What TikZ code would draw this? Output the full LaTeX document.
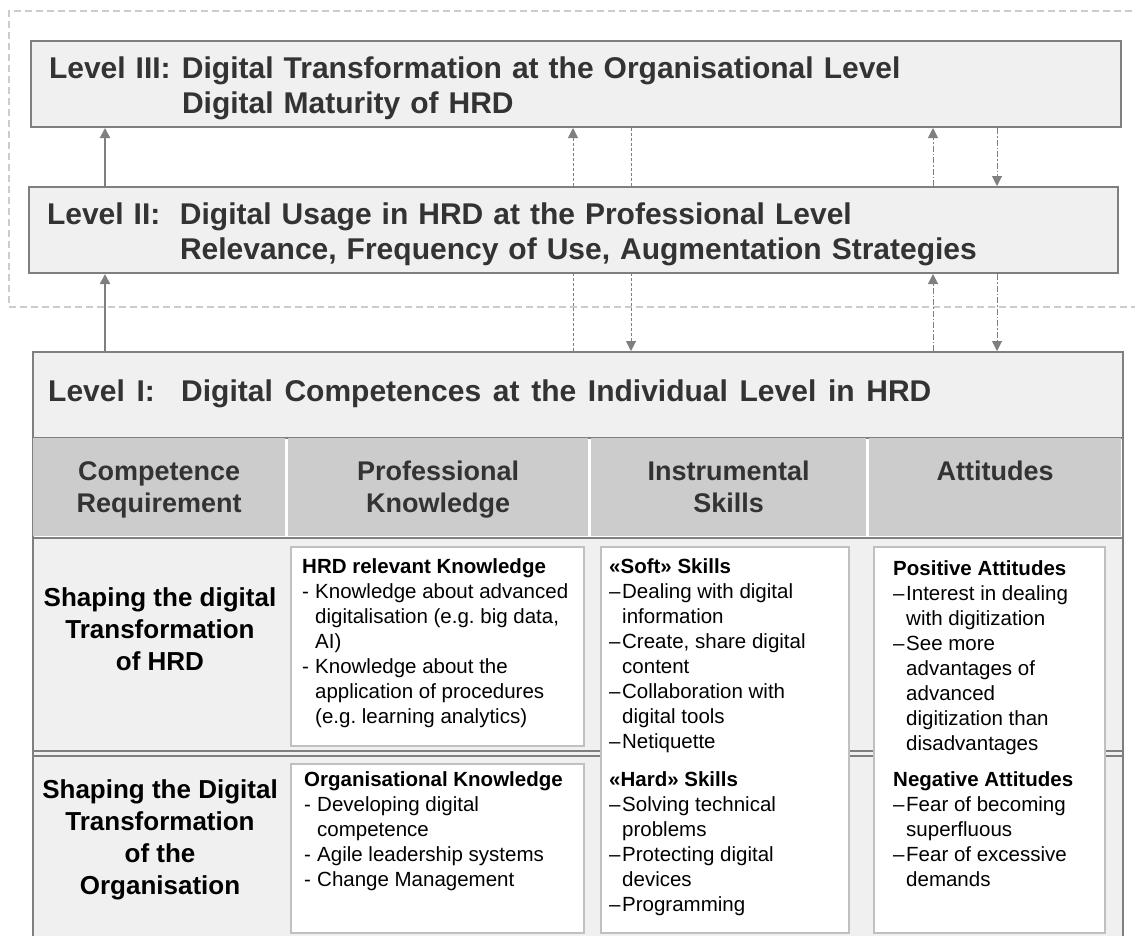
\documentclass[tikz,border=0pt]{standalone}
\usepackage{fontspec}
\setmainfont{Liberation Sans}
\newfontfamily\levelfamily{Liberation Sans}[WordSpace=1.4]
\usepackage{xcolor}
\usepackage{tikz}
\usetikzlibrary{arrows.meta,positioning,backgrounds}

\definecolor{linegray}{HTML}{7F7F7F}
\definecolor{panel}{HTML}{F0F0F0}
\definecolor{headgray}{HTML}{CCCCCC}
\definecolor{boxgray}{HTML}{C0C0C0}
\definecolor{zonegray}{HTML}{CCCCCC}
\definecolor{textdark}{HTML}{333333}

\frenchspacing
\newcommand{\kdash}{\makebox[13pt][l]{-}}
\newcommand{\sdash}{\makebox[13pt][l]{\textendash}}
\newcommand{\skipind}{\hspace*{13pt}}

\begin{document}
\begin{tikzpicture}[
  x=1pt, y=-1pt,
  >={Triangle[length=10pt,width=10pt]},
  level/.style={draw=linegray, line width=2pt, fill=panel, anchor=north west, inner xsep=18pt, inner ysep=0pt,
    minimum height=86pt, align=left, text=textdark,
    font=\levelfamily\fontsize{30}{35}\selectfont\bfseries},
  headcell/.style={fill=headgray, anchor=north west, inner sep=0pt, minimum height=98pt, text depth=0pt,
    align=center, text=textdark, font=\fontsize{27}{32}\selectfont\bfseries},
  rowlbl/.style={align=center, inner sep=0pt, font=\fontsize{26}{32}\selectfont\bfseries},
  whitebox/.style={draw=boxgray, line width=2pt, fill=white, anchor=north west, inner sep=0pt},
  boxtxt/.style={anchor=north west, align=left, inner sep=0pt, font=\fontsize{20.5}{25}\selectfont},
  link/.style={->, draw=linegray, fill=linegray, line width=2pt},
  dlink/.style={->, draw=linegray, line width=1pt, dash pattern=on 3pt off 2pt},
  ddlink/.style={->, draw=linegray, line width=1pt, dash pattern=on 6pt off 2pt on 1.5pt off 2pt}
]
\useasboundingbox (0,0) rectangle (1135,935);

\node[draw=zonegray, line width=1.5pt, dash pattern=on 7pt off 4pt, anchor=north west, inner sep=0pt,
  minimum width=1145pt, minimum height=296pt] (zone) at (8,10) {};

\node[level, text width=1054pt] (l3) at (30,40)
  {\rule{0pt}{31pt}\makebox[133pt][l]{Level III:}Digital Transformation at the Organisational Level\\
   \hspace*{133pt}Digital Maturity of HRD};
\node[level, text width=1053pt] (l2) at (28,186)
  {\rule{0pt}{31pt}\makebox[133pt][l]{Level II:}Digital Usage in HRD at the Professional Level\\
   \hspace*{133pt}Relevance, Frequency of Use, Augmentation Strategies};
\node[level, minimum width=1090pt, minimum height=620pt, inner sep=0pt] (l1) at (32,351) {};
\node[anchor=west, inner sep=0pt, text=textdark,
  font=\levelfamily\fontsize{30}{35}\selectfont\bfseries] (l1txt) at (48,394)
  {\makebox[133pt][l]{Level I:}Digital Competences at the Individual Level in HRD};

\node[draw=linegray, line width=2pt, fill=white, anchor=north west, inner sep=0pt,
  minimum width=1090pt, minimum height=100pt] (hdr) at (32,437) {};
\node[headcell, minimum width=252pt] (hreq) at (33,438) {Competence\\Requirement};
\node[headcell, minimum width=300pt] (hknow) at (288,438) {Professional\\Knowledge};
\node[headcell, minimum width=275pt] (hskill) at (591,438) {Instrumental\\Skills};
\node[headcell, minimum width=252pt] (hatt) at (869,438) {Attitudes\\\mbox{}};

\node[draw=linegray, line width=1.5pt, fill=panel, anchor=north west, inner sep=0pt,
  minimum width=1090pt, minimum height=5pt] (rsep) at (32,750) {};

\node[rowlbl] (row1) at (160,629) {Shaping the digital\\Transformation\\of HRD};
\node[rowlbl] (row2) at (160,840) {Shaping the Digital\\Transformation\\of the\\Organisation};

\node[whitebox, minimum width=293pt, minimum height=199pt] (k1) at (290,546) {};
\node[whitebox, minimum width=293pt, minimum height=169pt] (k2) at (290,763) {};
\node[whitebox, minimum width=248pt, minimum height=386pt] (sk) at (600,546) {};
\node[whitebox, minimum width=231pt, minimum height=386pt] (att) at (873,546) {};

\node[boxtxt] (k1txt) at (302,558)
  {\textbf{HRD relevant Knowledge}\\
   \kdash Knowledge about advanced\\
   \skipind digitalisation (e.g. big data,\\
   \skipind AI)\\
   \kdash Knowledge about the\\
   \skipind application of procedures\\
   \skipind (e.g. learning analytics)};
\node[boxtxt] (k2txt) at (304,771)
  {\textbf{Organisational Knowledge}\\
   \kdash Developing digital\\
   \skipind competence\\
   \kdash Agile leadership systems\\
   \kdash Change Management};
\node[boxtxt] (sktxt) at (609,558)
  {\textbf{«Soft» Skills}\\
   \sdash Dealing with digital\\
   \skipind information\\
   \sdash Create, share digital\\
   \skipind content\\
   \sdash Collaboration with\\
   \skipind digital tools\\
   \sdash Netiquette\\[13pt]
   \textbf{«Hard» Skills}\\
   \sdash Solving technical\\
   \skipind problems\\
   \sdash Protecting digital\\
   \skipind devices\\
   \sdash Programming};
\node[boxtxt] (atttxt) at (893,560)
  {\textbf{Positive Attitudes}\\
   \sdash Interest in dealing\\
   \skipind with digitization\\
   \sdash See more\\
   \skipind advantages of\\
   \skipind advanced\\
   \skipind digitization than\\
   \skipind disadvantages\\[11pt]
   \textbf{Negative Attitudes}\\
   \sdash Fear of becoming\\
   \skipind superfluous\\
   \sdash Fear of excessive\\
   \skipind demands};

\coordinate (c1) at (105,0);
\coordinate (c2) at (573,0);
\coordinate (c3) at (631,0);
\coordinate (c4) at (933,0);
\coordinate (c5) at (997,0);

\draw[link] (l2.north -| c1) -- (l3.south -| c1);
\draw[link] (l1.north -| c1) -- (l2.south -| c1);
\begin{scope}[on background layer]
  \draw[dlink] (l1.north -| c2) -- (l3.south -| c2);
  \draw[dlink] (l3.south -| c3) -- (l1.north -| c3);
\end{scope}
\draw[ddlink] (l2.north -| c4) -- (l3.south -| c4);
\draw[ddlink] (l1.north -| c4) -- (l2.south -| c4);
\draw[ddlink] (l3.south -| c5) -- (l2.north -| c5);
\draw[ddlink] (l2.south -| c5) -- (l1.north -| c5);
\end{tikzpicture}
\end{document}
